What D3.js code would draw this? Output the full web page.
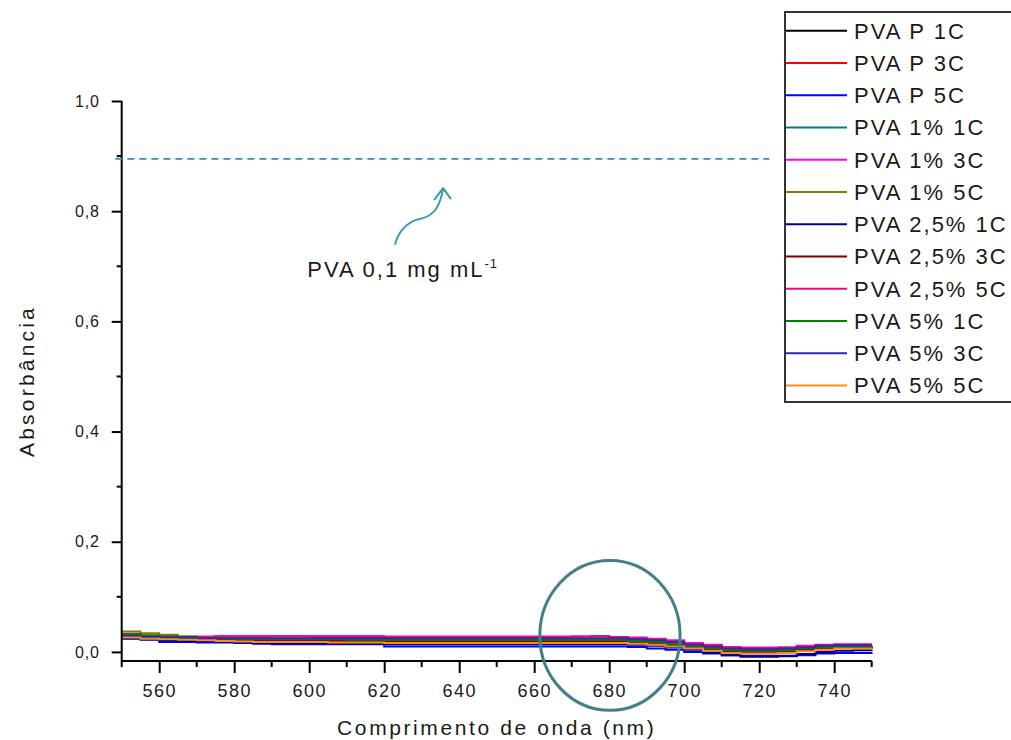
<!DOCTYPE html>
<html>
<head>
<meta charset="utf-8">
<script src="https://cdn.jsdelivr.net/npm/d3@7"></script>
<style>
  html, body { margin: 0; padding: 0; background: #ffffff; }
  svg { display: block; }
  text { font-family: "Liberation Sans", Arial, sans-serif; fill: #1a1a1a; }
</style>
</head>
<body>
<svg id="chart" width="1011" height="740"></svg>
<script>
// Wavelength grid (nm) shared by all spectra
const wavelengths = [550,555,560,565,570,575,580,585,590,595,600,605,610,615,620,625,630,635,640,645,650,655,660,665,670,675,680,685,690,695,700,705,710,715,720,725,730,735,740,745,750];

// Absorbance of each sample on the grid above
const pvaP1C = [.028,.026,.025,.024,.023,.022,.021,.020,.020,.020,.019,.019,.019,.019,.018,.018,.018,.018,.018,.018,.018,.018,.018,.018,.018,.018,.018,.016,.014,.011,.007,.003,-.001,-.002,-.002,-.001,.002,.005,.007,.007,.008];
const pvaP3C = [.030,.028,.026,.025,.024,.023,.022,.021,.021,.021,.021,.021,.021,.021,.020,.020,.020,.020,.020,.020,.020,.020,.020,.020,.020,.020,.020,.018,.016,.013,.009,.005,.002,.001,.001,.002,.005,.008,.009,.009,.010];
const pvaP5C = [.024,.022,.018,.018,.017,.017,.016,.015,.014,.014,.014,.014,.014,.014,.010,.010,.010,.010,.010,.010,.010,.010,.010,.010,.010,.010,.010,.009,.006,.004,.000,-.003,-.006,-.007,-.007,-.007,-.006,-.003,-.002,-.002,-.001];
const pva1_1C = [.030,.028,.027,.026,.025,.024,.023,.022,.022,.022,.022,.022,.022,.022,.021,.021,.021,.021,.021,.021,.021,.021,.021,.021,.021,.021,.021,.019,.017,.014,.010,.006,.003,.002,.002,.003,.006,.008,.010,.010,.010];
const pva1_3C = [.031,.029,.028,.028,.028,.029,.029,.029,.029,.029,.029,.029,.029,.029,.028,.028,.028,.028,.028,.028,.028,.028,.028,.028,.028,.028,.027,.026,.024,.021,.016,.013,.009,.008,.008,.008,.011,.013,.014,.014,.014];
const pva1_5C = [.037,.034,.031,.028,.026,.025,.025,.025,.024,.024,.024,.024,.024,.024,.023,.023,.023,.023,.023,.023,.023,.023,.023,.023,.023,.023,.023,.021,.019,.016,.012,.009,.005,.004,.004,.005,.007,.010,.011,.011,.012];
const pva25_1C = [.025,.023,.021,.020,.019,.018,.017,.016,.016,.016,.016,.015,.015,.015,.014,.014,.014,.014,.014,.014,.014,.014,.014,.014,.014,.014,.014,.013,.011,.008,.004,-.001,-.006,-.009,-.009,-.008,-.004,.000,.002,.003,.004];
const pva25_3C = [.031,.029,.027,.026,.024,.023,.022,.021,.021,.021,.021,.020,.020,.020,.019,.019,.019,.019,.019,.019,.019,.019,.019,.019,.019,.019,.019,.017,.015,.012,.008,.004,.000,.000,.000,.001,.004,.007,.008,.008,.009];
const pva25_5C = [.033,.030,.028,.027,.027,.028,.028,.028,.028,.028,.027,.027,.027,.027,.027,.027,.027,.027,.027,.027,.027,.027,.027,.027,.028,.029,.027,.025,.023,.020,.015,.012,.008,.007,.007,.008,.010,.012,.013,.013,.013];
const pva5_1C = [.032,.030,.028,.027,.025,.024,.023,.023,.023,.023,.023,.023,.022,.022,.022,.022,.022,.022,.022,.022,.022,.022,.022,.022,.022,.022,.022,.020,.018,.014,.010,.007,.003,.002,.002,.003,.006,.009,.010,.010,.011];
const pva5_3C = [.029,.027,.026,.026,.025,.025,.025,.025,.025,.025,.025,.025,.025,.025,.025,.025,.025,.025,.025,.025,.025,.025,.025,.025,.025,.025,.025,.023,.021,.018,.013,.010,.006,.005,.005,.006,.008,.011,.012,.012,.012];
const pva5_5C = [.026,.024,.023,.022,.021,.020,.019,.018,.018,.018,.018,.017,.017,.017,.016,.016,.016,.016,.016,.016,.016,.016,.016,.016,.016,.016,.016,.015,.013,.010,.006,.002,-.002,-.003,-.003,-.002,.001,.004,.006,.006,.007];

const seriesNames = ["PVA P 1C","PVA P 3C","PVA P 5C","PVA 1% 1C","PVA 1% 3C","PVA 1% 5C","PVA 2,5% 1C","PVA 2,5% 3C","PVA 2,5% 5C","PVA 5% 1C","PVA 5% 3C","PVA 5% 5C"];
const seriesValues = [pvaP1C,pvaP3C,pvaP5C,pva1_1C,pva1_3C,pva1_5C,pva25_1C,pva25_3C,pva25_5C,pva5_1C,pva5_3C,pva5_5C];
const seriesColors = ["#000000","#ff0000","#0000ff","#008080","#ff00ff","#808000","#000080","#800000","#ff0080","#008000","#2b2bb0","#ff8c1a"];

// Axis ticks
const xMajorTicks = [560,580,600,620,640,660,680,700,720,740];
const xMinorTicks = [550,570,590,610,630,650,670,690,710,730,750];
const yMajorTicks = [0,0.2,0.4,0.6,0.8,1.0];
const yMinorTicks = [0.1,0.3,0.5,0.7,0.9];

// Reference level of the 0.1 mg/mL PVA solution
const refLevel = 0.895;
const refFromNm = 548.3;
const refToNm = 722.7;
const refLabelNm = 599.5;
const refLabelAbs = 0.680;
// Curved pointer from the label to the reference line (nm, absorbance)
const pointerPath = [[622.9,0.739],[623.4,0.757],[625.5,0.780],[629.5,0.786],[633.5,0.791],[634.9,0.811],[635.7,0.840]];
const pointerHead = [[633.3,0.820],[635.7,0.842],[637.8,0.822]];
// Highlighted region around 680 nm
const focusNm = 680.2, focusAbs = 0.030, focusHalfNm = 18.7, focusHalfAbs = 0.136;

const svg = d3.select("#chart");
const x = d3.scaleLinear().domain([550, 750]).range([121.7, 871.7]);
const y = d3.scaleLinear().domain([-0.0165, 1.0]).range([661, 101]);

const fmt = d => d3.format(".1f")(d).replace(".", ",");

// Spectra
const line = d3.line()
  .x(d => x(d[0]))
  .y(d => y(d[1]))
  .curve(d3.curveStepAfter);

const plot = svg.append("g");
seriesValues.forEach((vals, i) => {
  plot.append("path")
    .datum(wavelengths.map((w, j) => [w, vals[j]]))
    .attr("fill", "none")
    .attr("stroke", seriesColors[i])
    .attr("stroke-width", 2)
    .attr("d", line);
});

// X axis
const xAxisG = svg.append("g").attr("transform", `translate(0,${y(-0.0165)})`);
xAxisG.call(d3.axisBottom(x).tickValues(xMajorTicks).tickSize(12).tickPadding(11).tickFormat(d3.format("d")));
xAxisG.call(g => g.selectAll(".minor").data(xMinorTicks).join("line")
  .attr("class", "minor").attr("x1", d => x(d)).attr("x2", d => x(d))
  .attr("y1", 0).attr("y2", 6).attr("stroke", "#000").attr("stroke-width", 2));
xAxisG.select(".domain").attr("d", `M${x(550)},0H${x(750)}`).attr("stroke-width", 2);
xAxisG.selectAll(".tick line").attr("stroke-width", 2);
xAxisG.selectAll(".tick text")
  .attr("font-size", 18).attr("letter-spacing", 1.5)
  .style("font-family", "'Liberation Sans', Arial, sans-serif").attr("fill", "#1a1a1a");

// Y axis
const yAxisG = svg.append("g").attr("transform", `translate(${x(550)},0)`);
yAxisG.call(d3.axisLeft(y).tickValues(yMajorTicks).tickSize(10).tickPadding(12).tickFormat(fmt));
yAxisG.call(g => g.selectAll(".minor").data(yMinorTicks).join("line")
  .attr("class", "minor").attr("y1", d => y(d)).attr("y2", d => y(d))
  .attr("x1", 0).attr("x2", -5).attr("stroke", "#000").attr("stroke-width", 2));
yAxisG.select(".domain").attr("d", `M0,${y(1.0)}V${y(-0.0165)}`).attr("stroke-width", 2);
yAxisG.selectAll(".tick line").attr("stroke-width", 2);
yAxisG.selectAll(".tick text")
  .attr("font-size", 16).attr("letter-spacing", 0.8)
  .style("font-family", "'Liberation Sans', Arial, sans-serif").attr("fill", "#1a1a1a");

// Axis titles
svg.append("text")
  .attr("x", (x(550) + x(750)) / 2).attr("y", 735)
  .attr("text-anchor", "middle").attr("font-size", 21).attr("letter-spacing", 2.6)
  .text("Comprimento de onda (nm)");
svg.append("text")
  .attr("transform", `translate(34,${(y(1.0) + y(-0.0165)) / 2}) rotate(-90)`)
  .attr("text-anchor", "middle").attr("font-size", 21).attr("letter-spacing", 3.2)
  .text("Absorbância");

// Reference line and annotation
svg.append("line")
  .attr("x1", x(refFromNm)).attr("x2", x(refToNm))
  .attr("y1", y(refLevel)).attr("y2", y(refLevel))
  .attr("stroke", "#2a93b3").attr("stroke-width", 1.6)
  .attr("stroke-dasharray", "7,5");

const pt = p => [x(p[0]), y(p[1])];
const pp = pointerPath.map(pt);
svg.append("path")
  .attr("d", `M${pp[0]}C${pp[1]} ${pp[2]} ${pp[3]}C${pp[4]} ${pp[5]} ${pp[6]}`)
  .attr("fill", "none").attr("stroke", "#3a9ab5").attr("stroke-width", 2);
svg.append("polyline")
  .attr("points", pointerHead.map(pt).map(p => p.join(",")).join(" "))
  .attr("fill", "none").attr("stroke", "#3a9ab5").attr("stroke-width", 2)
  .attr("stroke-linejoin", "round");

const lbl = svg.append("text")
  .attr("x", x(refLabelNm)).attr("y", y(refLabelAbs))
  .attr("font-size", 22).attr("letter-spacing", 2);
lbl.append("tspan").text("PVA 0,1 mg mL");
lbl.append("tspan").attr("dy", -9).attr("font-size", 13).attr("letter-spacing", 1).text("-1");

// Highlight ellipse
svg.append("ellipse")
  .attr("cx", x(focusNm)).attr("cy", y(focusAbs))
  .attr("rx", x(focusNm + focusHalfNm) - x(focusNm))
  .attr("ry", y(focusAbs) - y(focusAbs + focusHalfAbs))
  .attr("fill", "none").attr("stroke", "#427f8a").attr("stroke-width", 3);

// Legend
const legend = svg.append("g");
legend.append("rect")
  .attr("x", 785).attr("y", 12).attr("width", 240).attr("height", 390)
  .attr("fill", "#ffffff").attr("stroke", "#333").attr("stroke-width", 2);
seriesNames.forEach((name, i) => {
  const ry = 30.7 + i * 32.25;
  legend.append("line")
    .attr("x1", 786).attr("x2", 847).attr("y1", ry).attr("y2", ry)
    .attr("stroke", seriesColors[i]).attr("stroke-width", 2);
  legend.append("text")
    .attr("x", 854).attr("y", ry).attr("dy", "0.36em")
    .attr("font-size", 22).attr("letter-spacing", 2)
    .text(name);
});
</script>
</body>
</html>
